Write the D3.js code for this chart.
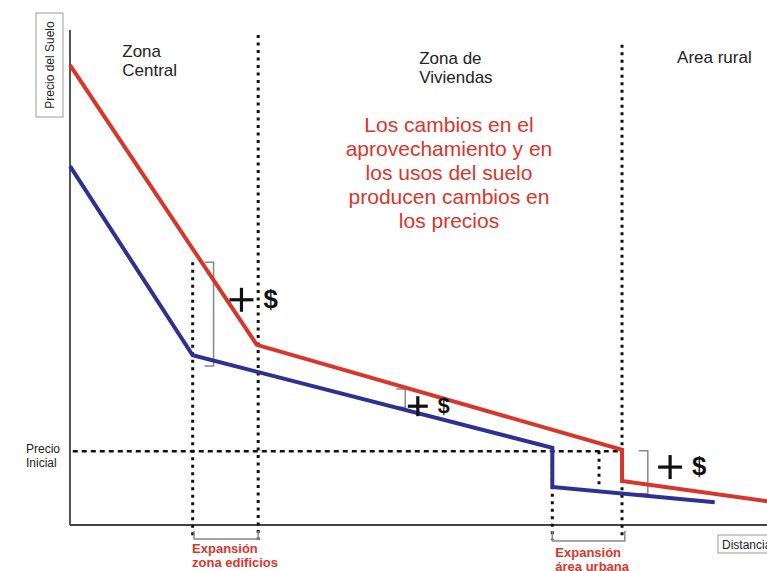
<!DOCTYPE html>
<html><head><meta charset="utf-8">
<script src="https://cdn.jsdelivr.net/npm/d3@7"></script>
<style>body{margin:0;background:#fff}svg{display:block}</style>
</head><body><svg id="c" width="767" height="571"></svg>
<script>
// Distance (0-100) and price (0-100) in abstract units
const redX = [0, 26.8, 79.2, 79.2, 100];
const redY = [92.9, 36.4, 15.2, 8.9, 4.8];
const blueX = [0, 17.6, 69.2, 69.2, 92.5];
const blueY = [72.5, 34.3, 15.6, 7.7, 4.6];
const precioInicial = 14.9;
// vertical guides: [x, yTop, yBottom]
const guideX = [17.6, 27.0, 69.2, 75.9, 79.2];
const guideTop = [53.1, 99.0, 15.4, 14.9, 97.0];
const guideBottom = [-3.0, -3.0, -3.0, 7.7, -3.0];
const zoneLabels = [["Zona", "Central"], ["Zona de", "Viviendas"], ["Area rural"]];
const zoneLabelX = [7.5, 50.1, 87.1];
const zoneLabelY = [94.5, 93.1, 93.3];
const noteLines = ["Los cambios en el", "aprovechamiento y en", "los usos del suelo", "producen cambios en", "los precios"];
const gainX = [24.6, 49.9, 86.1];
const gainY = [45.5, 24.0, 11.7];
const gainSize = [12, 10, 12];
// brackets: [x, yTop, yBottom] for the price gain marks
const gainBracketX = [20.6, 48.1, 82.9];
const gainBracketTop = [53.1, 27.5, 15.0];
const gainBracketBottom = [32.1, 23.8, 6.3];
const expLabels = [["Expansión", "zona edificios"], ["Expansión", "área urbana"]];
const expStart = [17.8, 69.2];
const expEnd = [27.0, 79.6];

const svg = d3.select("#c");
const x = d3.scaleLinear().domain([0, 100]).range([70, 767]);
const y = d3.scaleLinear().domain([0, 100]).range([525, 30]);
const red = "#d9362b", blue = "#2e3192", ink = "#222";
const font = "Liberation Sans, Arial, sans-serif";

// axes
svg.append("line").attr("x1", x(0)).attr("x2", x(0)).attr("y1", y(100)).attr("y2", y(0))
  .attr("stroke", "#555").attr("stroke-width", 2);
svg.append("line").attr("x1", x(0)).attr("x2", x(100)).attr("y1", y(0)).attr("y2", y(0))
  .attr("stroke", "#444").attr("stroke-width", 2);

// precio inicial dashed line
svg.append("line").attr("x1", x(0.4)).attr("x2", x(79.2)).attr("y1", y(precioInicial)).attr("y2", y(precioInicial))
  .attr("stroke", "#111").attr("stroke-width", 2.5).attr("stroke-dasharray", "5,4");

// vertical dotted guides
guideX.forEach((gx, i) => {
  svg.append("line").attr("x1", x(gx)).attr("x2", x(gx))
    .attr("y1", y(guideTop[i])).attr("y2", y(guideBottom[i]))
    .attr("stroke", "#111").attr("stroke-width", 3).attr("stroke-dasharray", "3,4.5");
});

// gain brackets
gainBracketX.forEach((bx, i) => {
  const xx = x(bx), t = y(gainBracketTop[i]), b = y(gainBracketBottom[i]);
  svg.append("path").attr("d", `M${xx - 9},${t}H${xx}V${b}H${xx - 9}`)
    .attr("fill", "none").attr("stroke", "#888").attr("stroke-width", 1.5);
});

// lines
const line = d3.line().x(d => x(d[0])).y(d => y(d[1]));
svg.append("path").datum(blueX.map((v, i) => [v, blueY[i]])).attr("d", line)
  .attr("fill", "none").attr("stroke", blue).attr("stroke-width", 4).attr("stroke-linejoin", "miter");
svg.append("path").datum(redX.map((v, i) => [v, redY[i]])).attr("d", line)
  .attr("fill", "none").attr("stroke", red).attr("stroke-width", 4).attr("stroke-linejoin", "miter");

// +$ labels
gainX.forEach((gx, i) => {
  const s = gainSize[i];
  const g = svg.append("g").attr("transform", `translate(${x(gx)},${y(gainY[i])})`);
  g.append("line").attr("x1", -s).attr("x2", s).attr("y1", 0).attr("y2", 0).attr("stroke", "#111").attr("stroke-width", 3.2);
  g.append("line").attr("x1", 0).attr("x2", 0).attr("y1", -s).attr("y2", s).attr("stroke", "#111").attr("stroke-width", 3.2);
  g.append("text").attr("x", s + 10).attr("y", s * 0.7).attr("font-family", font).attr("font-weight", "bold")
    .attr("font-size", s * 2.15).attr("fill", "#111").text("$");
});

// zone labels
zoneLabels.forEach((lines, i) => {
  lines.forEach((t, j) => {
    svg.append("text").attr("x", x(zoneLabelX[i])).attr("y", y(zoneLabelY[i]) + j * 18.5)
      .attr("font-family", font).attr("font-size", 17).attr("fill", ink).text(t);
  });
});

// note
noteLines.forEach((t, j) => {
  svg.append("text").attr("x", 449).attr("y", 132 + j * 24).attr("text-anchor", "middle")
    .attr("font-family", font).attr("font-size", 21).attr("fill", red).text(t);
});

// y axis title box
svg.append("rect").attr("x", 36).attr("y", 13).attr("width", 27).attr("height", 104)
  .attr("fill", "#fff").attr("stroke", "#999").attr("stroke-width", 1);
svg.append("text").attr("transform", "translate(54,65) rotate(-90)").attr("text-anchor", "middle")
  .attr("font-family", font).attr("font-size", 12).attr("fill", ink).text("Precio del Suelo");

// precio inicial label
["Precio", "Inicial"].forEach((t, j) => {
  svg.append("text").attr("x", 26).attr("y", 453 + j * 14).attr("font-family", font)
    .attr("font-size", 12).attr("fill", ink).text(t);
});

// x axis title box
svg.append("rect").attr("x", 718).attr("y", 535).attr("width", 60).attr("height", 18)
  .attr("fill", "#fff").attr("stroke", "#999").attr("stroke-width", 1);
svg.append("text").attr("x", 722).attr("y", 549).attr("font-family", font)
  .attr("font-size", 12).attr("fill", ink).text("Distancia");

// expansion brackets
expStart.forEach((s, i) => {
  const a = x(s), b = x(expEnd[i]), t = y(0) + 6, bt = y(0) + 14 + i * 2;
  svg.append("path").attr("d", `M${a},${t}V${bt}H${b}V${t}`).attr("fill", "none")
    .attr("stroke", "#888").attr("stroke-width", 1.5);
  expLabels[i].forEach((txt, j) => {
    svg.append("text").attr("x", a - 2 + i * 5).attr("y", 553 + i * 4 + j * 14).attr("font-family", font)
      .attr("font-size", 13).attr("font-weight", "bold").attr("fill", red).text(txt);
  });
});
</script></body></html>
